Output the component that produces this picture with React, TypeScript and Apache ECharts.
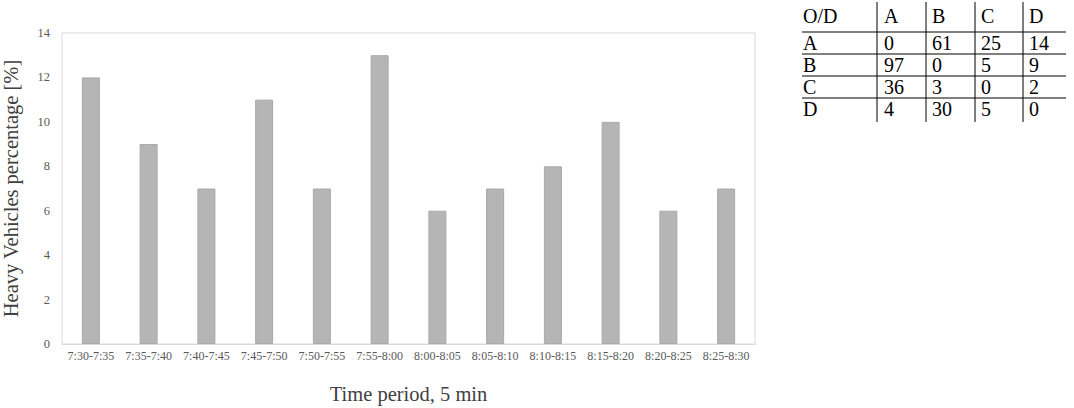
import React, { useEffect, useRef } from "react";
import * as echarts from "echarts";

const categories = [
  "7:30-7:35", "7:35-7:40", "7:40-7:45", "7:45-7:50", "7:50-7:55", "7:55-8:00",
  "8:00-8:05", "8:05-8:10", "8:10-8:15", "8:15-8:20", "8:20-8:25", "8:25-8:30",
];
const heavyPct = [12, 9, 7, 11, 7, 13, 6, 7, 8, 10, 6, 7];
const yTicks = { min: 0, max: 14, interval: 2 };

const odHeader = ["O/D", "A", "B", "C", "D"];
const odRows = [
  ["A", "0", "61", "25", "14"],
  ["B", "97", "0", "5", "9"],
  ["C", "36", "3", "0", "2"],
  ["D", "4", "30", "5", "0"],
];

const FONT = "Liberation Serif";

export default function App() {
  const ref = useRef<HTMLDivElement>(null);
  useEffect(() => {
    if (!ref.current) return;
    const chart = echarts.init(ref.current, undefined, { renderer: "svg" });

    const colX = [803, 884, 932, 981, 1029];
    const vLines = [877, 926, 975, 1023];
    const hLines = [32, 54, 76, 98];
    const rowY = [16, 43, 65, 87, 109];
    const g: any[] = [];
    const allRows = [odHeader, ...odRows];
    allRows.forEach((r, ri) => {
      r.forEach((t, ci) => {
        g.push({
          type: "text",
          x: colX[ci],
          y: rowY[ri],
          style: {
            text: t, fill: "#000", fontFamily: FONT, fontSize: 20,
            verticalAlign: "middle", align: "left",
          },
        });
      });
    });
    hLines.forEach((y) =>
      g.push({ type: "line", shape: { x1: 802, y1: y, x2: 1066, y2: y }, style: { stroke: "#000", lineWidth: 1 } })
    );
    vLines.forEach((x) =>
      g.push({ type: "line", shape: { x1: x, y1: 2, x2: x, y2: 122 }, style: { stroke: "#000", lineWidth: 1 } })
    );

    chart.setOption({
      animation: false,
      textStyle: { fontFamily: FONT },
      grid: {
        left: 62, top: 33, right: 319, bottom: 64,
        show: true, borderColor: "#d9d9d9", borderWidth: 1,
        outerBoundsMode: "none", containLabel: false,
      },
      xAxis: {
        type: "category",
        data: categories,
        axisTick: { show: false },
        axisLine: { lineStyle: { color: "#d9d9d9" } },
        axisLabel: { color: "#595959", fontSize: 12, margin: 6, fontFamily: FONT, interval: 0 },
        name: "Time period, 5 min",
        nameLocation: "middle",
        nameGap: 39,
        nameTextStyle: { color: "#404040", fontSize: 20.5, fontFamily: FONT },
      },
      yAxis: {
        type: "value",
        min: yTicks.min,
        max: yTicks.max,
        interval: yTicks.interval,
        splitLine: { show: false },
        axisLine: { show: false },
        axisTick: { show: false },
        axisLabel: { color: "#595959", fontSize: 12.5, margin: 12, fontFamily: FONT },
        name: "Heavy Vehicles percentage [%]",
        nameLocation: "middle",
        nameGap: 41,
        nameTextStyle: { color: "#404040", fontSize: 20.5, fontFamily: FONT },
      },
      series: [
        {
          type: "bar",
          data: heavyPct,
          barWidth: 18,
          itemStyle: { color: "#b5b5b5", borderColor: "#a9a9a9", borderWidth: 1 },
        },
      ],
      graphic: g,
    });
    return () => chart.dispose();
  }, []);
  return <div ref={ref} style={{ position: "absolute", left: 0, top: 0, width: 1074, height: 408 }} />;
}
